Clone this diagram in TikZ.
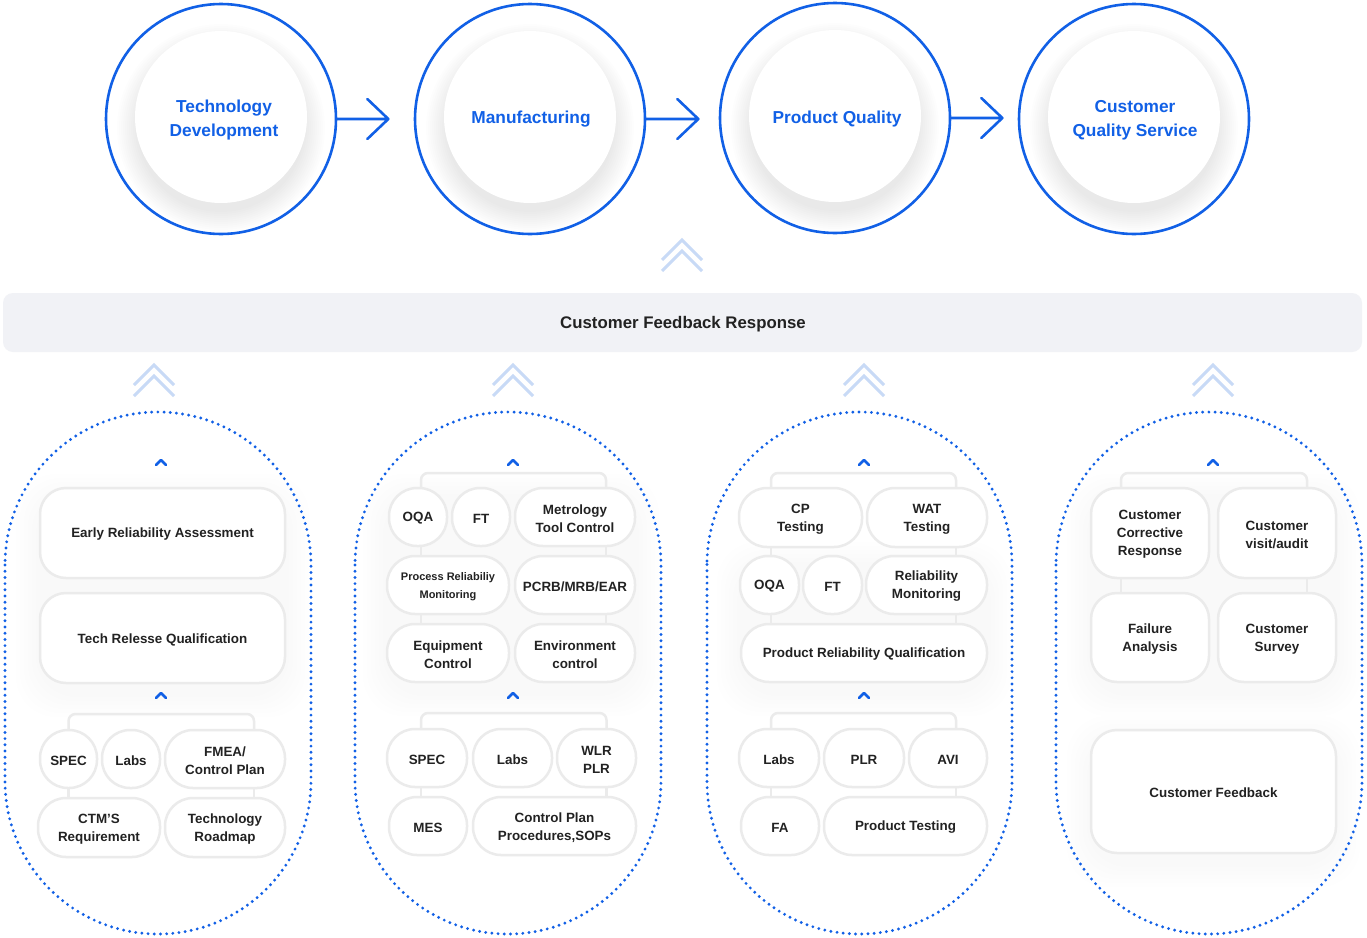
\documentclass[tikz,border=0pt]{standalone}
\usepackage{fontspec}
\setmainfont{Liberation Sans}
\usetikzlibrary{backgrounds,calc}
\definecolor{qblue}{HTML}{1160E6}
\definecolor{lblue}{HTML}{C8DAF6}
\definecolor{ink}{HTML}{222222}
\definecolor{edge}{HTML}{EBEBEB}
\definecolor{barbg}{HTML}{F1F2F6}
\newcommand\bx[8][]{\node[box,rounded corners=#7pt,minimum width={#5-#3},minimum height={#6-#4}] (#2) at ({(#3+#5)/2},{(#4+#6)/2}) {};
  \node[txt,#1,yshift=-1.5pt] (#2t) at (#2.center) {#8};}
\begin{document}
\begin{tikzpicture}[x=1pt,y=-1pt,
  box/.style={draw=edge, line width=2.5pt, fill=white, inner sep=0pt},
  txt/.style={inner sep=0pt, text=ink, align=center, font=\fontsize{13.4}{18}\selectfont\bfseries},
  conn/.style={draw=edge, line width=2.5pt, rounded corners=7pt},
  caret/.style={draw=qblue, line width=2.6pt, line cap=round, line join=round},
  flow/.style={draw=qblue, line width=2.6pt, line join=round, line cap=round},
  dotst/.style={draw=qblue, line width=3.2pt, line cap=round, dash pattern=on 0pt off 6.2pt},
  bigc/.style={circle, draw=qblue, line width=2.6pt, minimum size=230pt, inner sep=0pt},
  biglab/.style={inner sep=0pt, text=qblue, align=center, font=\fontsize{17.3}{24}\selectfont\bfseries},
  dchevron/.pic={\draw[lblue, line width=3pt] (-20,20)--(0,0)--(20,20) (-20,31)--(0,11)--(20,31);},
  caretp/.pic={\draw[caret] (-5,3)--(0,-2)--(5,3);}
]
\useasboundingbox (0,0) rectangle (1367,937);

% top circles
\node[bigc] (c1) at (221,119) {};
\node[bigc] (c2) at (530,119) {};
\node[bigc] (c3) at (835,118) {};
\node[bigc] (c4) at (1134,119) {};
\node[biglab] (l1) at (224,120) {Technology\\Development};
\node[biglab] (l2) at (531,119) {Manufacturing};
\node[biglab] (l3) at (837,119) {Product Quality};
\node[biglab] (l4) at (1135,120) {Customer\\Quality Service};
\draw[flow] (c1.east) -- ++(51,0) coordinate (t1) ++(-21,-20) -- (t1) -- ++(-21,20);
\draw[flow] (c2.east) -- ++(52,0) coordinate (t2) ++(-21,-20) -- (t2) -- ++(-21,20);
\draw[flow] (c3.east) -- ++(51,0) coordinate (t3) ++(-21,-20) -- (t3) -- ++(-21,20);

\pic at (682,240) {dchevron};

% feedback bar
\node[fill=barbg, rounded corners=10pt, minimum width=1359pt, minimum height=59pt, inner sep=0pt] (fb) at (682.5,322.5) {};
\node[txt, font=\fontsize{16.8}{20}\selectfont\bfseries] (fbt) at (683,324) {Customer Feedback Response};

\foreach \x in {154,513,864,1213}{\pic at (\x,365) {dchevron};}

% dotted ovals
\draw[dotst, rounded corners=153pt] (5,412) rectangle (311,934);
\draw[dotst, rounded corners=153pt] (355,412) rectangle (661,934);
\draw[dotst, rounded corners=152.5pt] (707,412) rectangle (1012,934);
\draw[dotst, rounded corners=153pt] (1056,412) rectangle (1362,934);

% carets
\foreach \x/\y in {161/462,161/695,513/462,513/695,864/462,864/695,1213/462}{\pic at (\x,\y) {caretp};}

% column 1
\bx{era}{40}{488}{285}{578}{26}{Early Reliability Assessment}
\bx{trq}{40}{593}{285}{683}{26}{Tech Relesse Qualification}
\bx{spec1}{40}{730}{97}{788}{28}{SPEC}
\bx{labs1}{102}{730}{160}{788}{28}{Labs}
\bx{fmea}{165}{730}{285}{788}{28}{FMEA/\\Control Plan}
\bx{ctm}{38}{798}{160}{857}{28}{CTM’S\\Requirement}
\bx{road}{165}{798}{285}{857}{28}{Technology\\Roadmap}

% column 2
\bx{oqa2}{389}{488}{447}{546}{28}{OQA}
\bx{ft2}{452}{488}{510}{546}{28}{FT}
\bx{met}{515}{488}{635}{546}{28}{Metrology\\Tool Control}
\bx[font=\fontsize{11}{18}\selectfont\bfseries]{prm}{387}{556}{509}{614}{28}{Process Reliabiliy\\Monitoring}
\bx{pcrb}{515}{556}{635}{614}{28}{PCRB/MRB/EAR}
\bx{eqc}{387}{624}{509}{682}{28}{Equipment\\Control}
\bx{env}{515}{624}{635}{682}{28}{Environment\\control}
\bx{spec2}{387}{729}{467}{787}{28}{SPEC}
\bx{labs2}{473}{729}{552}{787}{28}{Labs}
\bx{wlr}{557}{729}{636}{787}{28}{WLR\\PLR}
\bx{mes}{389}{797}{467}{855}{28}{MES}
\bx{cps}{473}{797}{636}{855}{28}{Control Plan\\Procedures,SOPs}

% column 3
\bx{cp}{739}{488}{862}{547}{28}{CP\\Testing}
\bx{wat}{867}{488}{987}{547}{28}{WAT\\Testing}
\bx{oqa3}{740}{556}{799}{614}{28}{OQA}
\bx{ft3}{803}{556}{862}{614}{28}{FT}
\bx{rmon}{866}{556}{987}{614}{28}{Reliability\\Monitoring}
\bx{prq}{741}{624}{987}{682}{28}{Product Reliability Qualification}
\bx{labs3}{739}{729}{819}{787}{28}{Labs}
\bx{plr}{824}{729}{904}{787}{28}{PLR}
\bx{avi}{909}{729}{987}{787}{28}{AVI}
\bx{fa}{741}{797}{819}{855}{28}{FA}
\bx{pt}{824}{797}{987}{855}{28}{Product Testing}

% column 4
\bx{ccr}{1091}{488}{1209}{578}{26}{Customer\\Corrective\\Response}
\bx{cva}{1218}{488}{1336}{578}{26}{Customer\\visit/audit}
\bx{fan}{1091}{593}{1209}{682}{26}{Failure\\Analysis}
\bx{csv}{1218}{593}{1336}{682}{26}{Customer\\Survey}
\bx{cfb}{1091}{730}{1336}{853}{26}{Customer Feedback}

\begin{pgfonlayer}{background}
\fill[white] (0,0) rectangle (1367,937);
% circle inner shadows
\foreach \c in {c1,c2,c3,c4}{
  \foreach \r in {84,86,...,104}{\fill[black!70!blue,opacity=0.0075] ([yshift=-9pt]\c.center) circle (\r pt);}
  \fill[white] ([yshift=2pt]\c.center) circle (86pt);
}
% soft glows in columns
\foreach \a/\b/\c/\d in {40/488/285/683, 387/488/635/682, 741/556/987/682, 1091/488/1336/682, 1091/730/1336/853}{
  \foreach \e in {4,8,...,24}{\fill[black,opacity=0.0035, rounded corners=40pt] (\a-\e,\b-\e+10) rectangle (\c+\e,\d+\e+10);}
}
% col1
\draw[conn] (spec1.center) -- ++(0,-45) -| ([xshift=29pt]fmea.center);
\draw[conn] (spec1.center) -- (spec1.center |- ctm.center);
\draw[conn] ([xshift=29pt]fmea.center) -- ([xshift=29pt]fmea.center |- road.center);
% col2
\draw[conn] ([xshift=3pt]oqa2.center) -- ++(0,-44) -| ([xshift=31pt]met.center);
\draw[conn] ([xshift=3pt]oqa2.center) -- ([xshift=3pt]oqa2.center |- eqc.center);
\draw[conn] ([xshift=31pt]met.center) -- ([xshift=31pt]met.center |- env.center);
\draw[conn] ([xshift=-6pt]spec2.center) -- ++(0,-45) -| ([xshift=10pt]wlr.center);
\draw[conn] ([xshift=-6pt]spec2.center) -- ([xshift=-6pt]spec2.center |- mes.center);
\draw[conn] ([xshift=10pt]wlr.center) -- ([xshift=10pt]wlr.center |- cps.center);
% col3
\draw[conn] ([xshift=-29.5pt]cp.center) -- ++(0,-44.5) -| ([xshift=29pt]wat.center);
\draw[conn] ([xshift=-29.5pt]cp.center) -- ([xshift=-29.5pt]cp.center |- prq.center);
\draw[conn] ([xshift=29pt]wat.center) -- ([xshift=29pt]wat.center |- prq.center);
\draw[conn] ([xshift=-8pt]labs3.center) -- ++(0,-45) -| ([xshift=8pt]avi.center);
\draw[conn] ([xshift=-8pt]labs3.center) -- ([xshift=-8pt]labs3.center |- fa.center);
\draw[conn] ([xshift=8pt]avi.center) -- ([xshift=8pt]avi.center |- pt.center);
% col4
\draw[conn] ([xshift=-29pt]ccr.center) -- ++(0,-60) -| ([xshift=30pt]cva.center);
\draw[conn] ([xshift=-29pt]ccr.center) -- ([xshift=-29pt]ccr.center |- fan.center);
\draw[conn] ([xshift=30pt]cva.center) -- ([xshift=30pt]cva.center |- csv.center);
\end{pgfonlayer}
\end{tikzpicture}
\end{document}
